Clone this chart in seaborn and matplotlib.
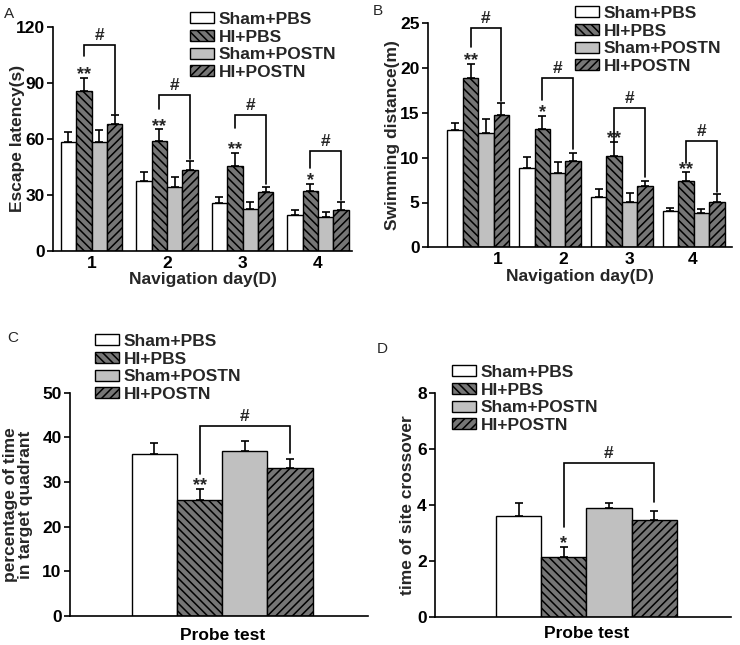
import numpy as np
import pandas as pd
import seaborn as sns
import matplotlib
matplotlib.use("Agg")
import matplotlib.pyplot as plt
from matplotlib.patches import Patch

# ---------------- data ----------------
groups = ["Sham+PBS", "HI+PBS", "Sham+POSTN", "HI+POSTN"]
days = ["1", "2", "3", "4"]

# Panel A: escape latency (s)
esc_sham_pbs = [58.4, 37.5, 25.4, 19.1]
esc_hi_pbs = [85.5, 58.9, 45.5, 32.1]
esc_sham_postn = [58.4, 34.3, 22.1, 18.2]
esc_hi_postn = [67.7, 43.2, 31.6, 21.8]
esc_sem_sham_pbs = [5.0, 4.8, 3.2, 2.7]
esc_sem_hi_pbs = [7.2, 6.1, 7.0, 3.6]
esc_sem_sham_postn = [6.4, 5.0, 4.2, 2.3]
esc_sem_hi_postn = [5.0, 4.8, 2.3, 4.1]
esc_stars = ["**", "**", "**", "*"]
esc_br_top = [110.2, 83.4, 72.7, 53.6]
esc_br_left = [104.5, 75.7, 65.5, 44.5]
esc_br_right = [73.5, 49.0, 35.5, 27.0]

# Panel B: swimming distance (m)
swm_sham_pbs = [13.1, 8.9, 5.65, 4.0]
swm_hi_pbs = [18.85, 13.2, 10.2, 7.36]
swm_sham_postn = [12.8, 8.25, 5.1, 3.8]
swm_hi_postn = [14.8, 9.6, 6.84, 5.06]
swm_sem_sham_pbs = [0.8, 1.2, 0.82, 0.4]
swm_sem_hi_pbs = [1.65, 1.5, 1.6, 1.0]
swm_sem_sham_postn = [1.5, 1.3, 1.0, 0.47]
swm_sem_hi_postn = [1.26, 0.95, 0.52, 0.84]
swm_stars = ["**", "*", "**", "**"]
swm_br_top = [24.5, 18.9, 15.6, 11.86]
swm_br_left = [22.3, 16.4, 11.8, 9.37]
swm_br_right = [16.3, 11.0, 7.8, 6.2]
swm_tick_pos = [0.27, 1.18, 2.10, 2.99]

# Panel C: percentage of time in target quadrant
pct_means = [36.3, 26.0, 36.9, 33.2]
pct_sem = [2.5, 2.4, 2.2, 2.0]
pct_br = [42.6, 31.9, 36.4]

# Panel D: site crossover
crs_means = [3.62, 2.17, 3.89, 3.46]
crs_sem = [0.48, 0.35, 0.21, 0.35]
crs_br = [5.52, 3.24, 4.13]

probe_label = ["Probe test"]

# ---------------- style ----------------
sns.set_theme(style="ticks")
plt.rcParams["font.family"] = ["Liberation Sans", "DejaVu Sans"]
plt.rcParams["font.weight"] = "bold"
plt.rcParams["axes.labelweight"] = "bold"
plt.rcParams["hatch.linewidth"] = 1.1
plt.rcParams["hatch.color"] = "black"

fills = ["#ffffff", "#767676", "#c0c0c0", "#767676"]
hatches = [None, "\\\\\\\\", None, "////"]
palette = dict(zip(groups, fills))

W, H = 740, 645
fig = plt.figure(figsize=(W / 100, H / 100), dpi=100)


def px_axes(l, r, t, b):
    return fig.add_axes([l / W, 1 - b / H, (r - l) / W, (b - t) / H])


def style_axes(ax, ymax, yticks):
    sns.despine(ax=ax)
    for s in ["left", "bottom"]:
        ax.spines[s].set_linewidth(1.2)
        ax.spines[s].set_color("black")
    ax.set_ylim(0, ymax)
    ax.set_yticks(yticks)
    ax.tick_params(axis="y", length=4, width=1.2, labelsize=12.5, pad=2, colors="black")
    ax.tick_params(axis="x", length=0, labelsize=12.5, colors="black")
    for lab in ax.get_xticklabels() + ax.get_yticklabels():
        lab.set_fontweight("bold")


def draw_bars(ax, df, xcol, width):
    sns.barplot(data=df, x=xcol, y="value", hue="group", hue_order=groups,
                palette=palette, edgecolor="black", linewidth=1.0,
                errorbar=None, width=width, gap=0, legend=False, ax=ax)
    for cont, h in zip(ax.containers, hatches):
        for p in cont:
            p.set_edgecolor("black")
            if h:
                p.set_hatch(h)


def add_errors(ax, means_list, sems_list):
    tops = []
    for cont, m, s in zip(ax.containers, means_list, sems_list):
        xs = [p.get_x() + p.get_width() / 2 for p in cont]
        ax.errorbar(xs, m, yerr=[np.zeros(len(s)), s], fmt="none", ecolor="black",
                    elinewidth=1.2, capsize=3.2, capthick=1.2, zorder=5)
        tops.append([mi + si for mi, si in zip(m, s)])
    return tops


def add_brackets(ax, tops_hi, stars, br_top, br_left, br_right, star_dy=-1.0):
    left = [p.get_x() + p.get_width() / 2 for p in ax.containers[1]]
    right = [p.get_x() + p.get_width() / 2 for p in ax.containers[3]]
    for i in range(len(left)):
        ax.plot([left[i], left[i], right[i], right[i]],
                [br_left[i], br_top[i], br_top[i], br_right[i]],
                color="black", lw=1.2, zorder=6, solid_joinstyle="miter")
        ax.annotate("#", ((left[i] + right[i]) / 2, br_top[i]), xytext=(0, 3.5),
                    textcoords="offset points", ha="center", va="baseline",
                    fontsize=12.5, fontweight="bold")
        ax.annotate(stars[i], (left[i], tops_hi[i]), xytext=(0, star_dy),
                    textcoords="offset points", ha="center", va="baseline",
                    fontsize=13, fontweight="bold")


def add_legend(ax, x_px, y_px):
    handles = [Patch(facecolor=f, edgecolor="black", hatch=h, linewidth=1.0)
               for f, h in zip(fills, hatches)]
    fig.legend(handles, groups, loc="upper left",
               bbox_to_anchor=(x_px / W, 1 - y_px / H), frameon=False,
               borderpad=0, borderaxespad=0, handlelength=1.4, handleheight=0.6,
               handletextpad=0.25, labelspacing=0.15,
               prop={"weight": "bold", "size": 12.5, "family": "Liberation Sans"})


def long_df(xcats, series):
    rows = []
    for g, vals in zip(groups, series):
        for x, v in zip(xcats, vals):
            rows.append({"x": x, "group": g, "value": v})
    return pd.DataFrame(rows)


# ---------------- Panel A ----------------
axA = px_axes(53, 352, 26.7, 250.7)
dfA = long_df(days, [esc_sham_pbs, esc_hi_pbs, esc_sham_postn, esc_hi_postn])
draw_bars(axA, dfA, "x", 0.815)
topsA = add_errors(axA, [esc_sham_pbs, esc_hi_pbs, esc_sham_postn, esc_hi_postn],
                   [esc_sem_sham_pbs, esc_sem_hi_pbs, esc_sem_sham_postn, esc_sem_hi_postn])
add_brackets(axA, topsA[1], esc_stars, esc_br_top, esc_br_left, esc_br_right)
axA.set_xlim(-0.51, 3.45)
style_axes(axA, 120, [0, 30, 60, 90, 120])
axA.set_xlabel("Navigation day(D)", fontsize=12.5, fontweight="bold", labelpad=1)
axA.set_ylabel("Escape latency(s)", fontsize=12.5, fontweight="bold")
axA.yaxis.set_label_coords(-0.095, 0.5)
add_legend(axA, 190, 12)

# ---------------- Panel B ----------------
axB = px_axes(428, 731.7, 23.3, 247.3)
dfB = long_df(days, [swm_sham_pbs, swm_hi_pbs, swm_sham_postn, swm_hi_postn])
draw_bars(axB, dfB, "x", 0.86)
topsB = add_errors(axB, [swm_sham_pbs, swm_hi_pbs, swm_sham_postn, swm_hi_postn],
                   [swm_sem_sham_pbs, swm_sem_hi_pbs, swm_sem_sham_postn, swm_sem_hi_postn])
add_brackets(axB, topsB[1], swm_stars, swm_br_top, swm_br_left, swm_br_right)
axB.set_xlim(-0.70, 3.53)
axB.set_xticks(swm_tick_pos, labels=days)
style_axes(axB, 25, [0, 5, 10, 15, 20, 25])
axB.set_xlabel("Navigation day(D)", fontsize=12.5, fontweight="bold", labelpad=1)
axB.set_ylabel("Swimming distance(m)", fontsize=12.5, fontweight="bold")
axB.yaxis.set_label_coords(-0.092, 0.5)
add_legend(axB, 575, 6)

# ---------------- Panel C ----------------
axC = px_axes(70, 368, 392.7, 616)
dfC = long_df(probe_label, [[v] for v in pct_means])
draw_bars(axC, dfC, "x", 0.8)
topsC = add_errors(axC, [[v] for v in pct_means], [[s] for s in pct_sem])
add_brackets(axC, topsC[1], ["**"], [pct_br[0]], [pct_br[1]], [pct_br[2]])
axC.set_xlim(-0.673, 0.645)
style_axes(axC, 50, [0, 10, 20, 30, 40, 50])
axC.tick_params(axis="x", pad=9)
axC.set_xlabel("")
axC.set_ylabel("percentage of time\nin target quadrant", fontsize=12.5,
               fontweight="bold", linespacing=1.0)
axC.yaxis.set_label_coords(-0.124, 0.5)
add_legend(axC, 95, 334)

# ---------------- Panel D ----------------
axD = px_axes(435, 731, 393.3, 617.3)
dfD = long_df(probe_label, [[v] for v in crs_means])
draw_bars(axD, dfD, "x", 0.8)
topsD = add_errors(axD, [[v] for v in crs_means], [[s] for s in crs_sem])
add_brackets(axD, topsD[1], ["*"], [crs_br[0]], [crs_br[1]], [crs_br[2]])
axD.set_xlim(-0.67, 0.64)
style_axes(axD, 8, [0, 2, 4, 6, 8])
axD.tick_params(axis="x", pad=6)
axD.set_xlabel("")
axD.set_ylabel("time of site crossover", fontsize=12.5, fontweight="bold")
axD.yaxis.set_label_coords(-0.066, 0.5)
add_legend(axD, 452, 365)

# panel letters
for letter, (x, y) in zip("ABCD", [(4, 7), (373, 4), (7, 331), (377, 342)]):
    fig.text(x / W, 1 - y / H, letter, ha="left", va="top", fontsize=11,
             fontweight="normal", family="Liberation Sans")

fig.savefig("out.png", dpi=100)
